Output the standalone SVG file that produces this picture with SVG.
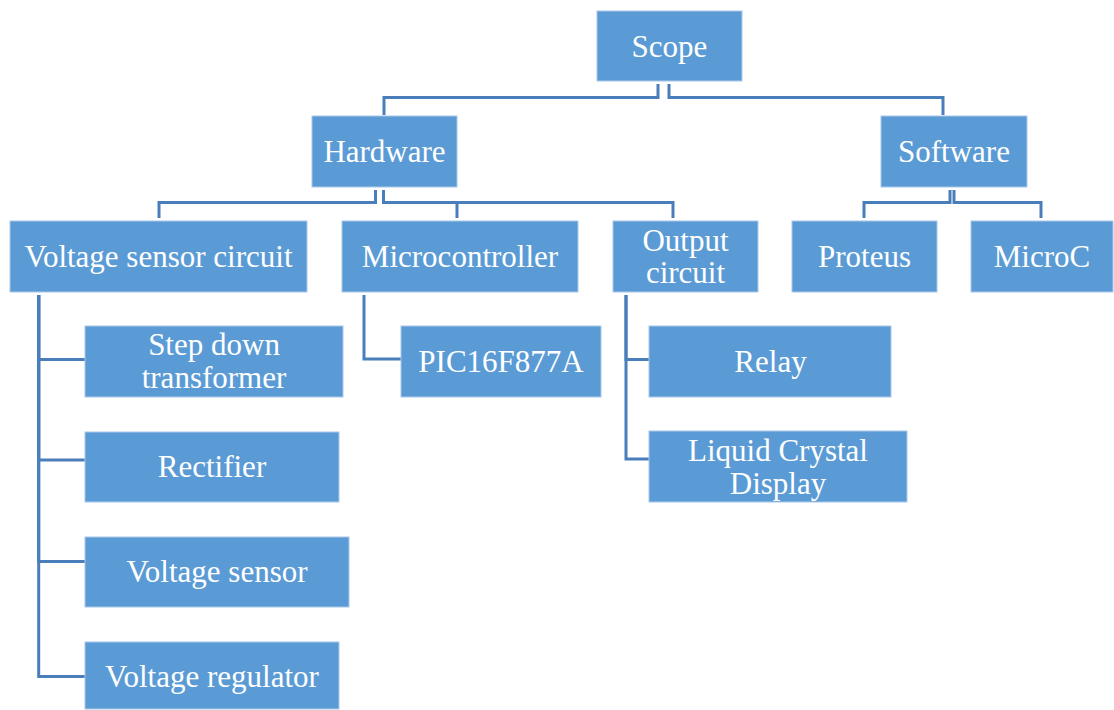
<svg xmlns="http://www.w3.org/2000/svg" width="1114" height="710" viewBox="0 0 1114 710">
<style>
.box{fill:#5b9bd5;stroke:#a9c8ea;stroke-width:1}
.t{font-family:'Liberation Serif','DejaVu Serif',serif;font-size:31px;fill:#ffffff;text-anchor:middle}
.c{fill:none;stroke:#4a7ebb;stroke-width:3}
</style>
<rect width="1114" height="710" fill="#ffffff"/>
<g id="connectors">
<path class="c" d="M658,84 V97.5 H384 V115"/>
<path class="c" d="M669,84 V97.5 H943 V115"/>
<path class="c" d="M375.5,190 V202.5 H159 V218"/>
<path class="c" d="M383.5,190 V202.5 H457 V218"/>
<path class="c" d="M383.5,190 V202.5 H673 V218"/>
<path class="c" d="M950,190 V202.5 H864 V218"/>
<path class="c" d="M954,190 V202.5 H1041 V218"/>
<path class="c" d="M38.7,295 V359.5 H85"/>
<path class="c" d="M38.7,295 V460 H85"/>
<path class="c" d="M38.7,295 V561.5 H85"/>
<path class="c" d="M38.7,295 V676.5 H85"/>
<path class="c" d="M364,295 V359 H401"/>
<path class="c" d="M626,295 V359.5 H649"/>
<path class="c" d="M626,295 V459 H649"/>
</g>
<g id="scope"><rect class="box" x="597" y="11" width="145" height="70"/><text class="t" x="669.5" y="57" font-family="Liberation Serif">Scope</text></g>
<g id="hardware"><rect class="box" x="312" y="116" width="145" height="71"/><text class="t" x="384.5" y="162">Hardware</text></g>
<g id="software"><rect class="box" x="881" y="116" width="146" height="71"/><text class="t" x="954" y="162">Software</text></g>
<g id="vsc"><rect class="box" x="10" y="221" width="297" height="71"/><text class="t" x="158.5" y="267">Voltage sensor circuit</text></g>
<g id="micro"><rect class="box" x="342" y="221" width="236" height="71"/><text class="t" x="460" y="267">Microcontroller</text></g>
<g id="output"><rect class="box" x="613" y="221" width="145" height="71"/><text class="t" x="685.5" y="251">Output</text><text class="t" x="685.5" y="283">circuit</text></g>
<g id="proteus"><rect class="box" x="792" y="221" width="145" height="71"/><text class="t" x="864.5" y="267">Proteus</text></g>
<g id="microc"><rect class="box" x="971" y="221" width="142" height="71"/><text class="t" x="1042" y="267">MicroC</text></g>
<g id="stepdown"><rect class="box" x="85" y="326" width="258" height="71"/><text class="t" x="214" y="355">Step down</text><text class="t" x="214" y="388">transformer</text></g>
<g id="rectifier"><rect class="box" x="85" y="432" width="254" height="70"/><text class="t" x="212" y="477">Rectifier</text></g>
<g id="vsensor"><rect class="box" x="85" y="537" width="264" height="70"/><text class="t" x="217" y="582">Voltage sensor</text></g>
<g id="vreg"><rect class="box" x="85" y="642" width="254" height="67"/><text class="t" x="212" y="687">Voltage regulator</text></g>
<g id="pic"><rect class="box" x="401" y="326" width="200" height="71"/><text class="t" x="501" y="372">PIC16F877A</text></g>
<g id="relay"><rect class="box" x="649" y="326" width="242" height="71"/><text class="t" x="770.5" y="372">Relay</text></g>
<g id="lcd"><rect class="box" x="649" y="431" width="258" height="71"/><text class="t" x="778" y="461">Liquid Crystal</text><text class="t" x="778" y="494">Display</text></g>
</svg>
